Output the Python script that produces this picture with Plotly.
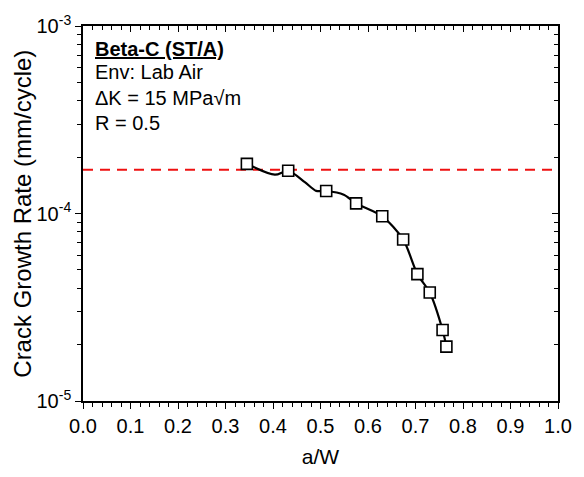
import plotly.graph_objects as go

# Measured data points (a/W, crack growth rate mm/cycle)
aw = [0.345, 0.432, 0.512, 0.575, 0.630, 0.674, 0.704, 0.730, 0.757, 0.765]
rate = [1.84e-4, 1.69e-4, 1.318e-4, 1.133e-4, 9.66e-5, 7.27e-5, 4.75e-5, 3.79e-5, 2.39e-5, 1.95e-5]

# Fitted curve
curve_x = [0.345, 0.404, 0.432, 0.467, 0.491, 0.512, 0.549, 0.575, 0.630, 0.674, 0.704, 0.730, 0.757, 0.765]
curve_y = [1.84e-4, 1.61e-4, 1.69e-4, 1.47e-4, 1.32e-4, 1.318e-4, 1.26e-4, 1.133e-4, 9.66e-5, 7.27e-5, 4.75e-5, 3.79e-5, 2.39e-5, 1.95e-5]

# Reference level (dashed red)
ref_x = [0.0, 1.0]
ref_y = [1.71e-4, 1.71e-4]

x_ticks = [0.0, 0.1, 0.2, 0.3, 0.4, 0.5, 0.6, 0.7, 0.8, 0.9, 1.0]
x_ticklabels = ["0.0", "0.1", "0.2", "0.3", "0.4", "0.5", "0.6", "0.7", "0.8", "0.9", "1.0"]
y_ticks = [1e-5, 1e-4, 1e-3]
y_ticklabels = ["10<sup>-5</sup>", "10<sup>-4</sup>", "10<sup>-3</sup>"]

x_title = "a/W"
y_title = "Crack Growth Rate (mm/cycle)"
notes = ["<b><u>Beta-C (ST/A)</u></b>", "Env: Lab Air", "ΔK = 15 MPa√m", "R = 0.5"]

FONT = "Arial, Liberation Sans, sans-serif"

y_minor = [m * 10 ** e for e in (-5, -4) for m in range(2, 10)]
x_minor = [i / 50 for i in range(51)]

fig = go.Figure()
fig.add_trace(go.Scatter(x=ref_x, y=ref_y, mode="lines",
                         line=dict(color="#ee1111", width=2, dash="10px,7px"),
                         hoverinfo="skip", showlegend=False))
fig.add_trace(go.Scatter(x=curve_x, y=curve_y, mode="lines",
                         line=dict(color="black", width=2.2, shape="spline", smoothing=0.8),
                         hoverinfo="skip", showlegend=False))
fig.add_trace(go.Scatter(x=aw, y=rate, mode="markers",
                         marker=dict(symbol="square", size=11, color="white",
                                     line=dict(color="black", width=1.6)),
                         showlegend=False))
# invisible trace to enable mirrored top/right axes with inside ticks
fig.add_trace(go.Scatter(x=ref_x, y=ref_y, xaxis="x2", yaxis="y2", mode="lines",
                         line=dict(width=0), opacity=0, hoverinfo="skip", showlegend=False))

axis_common = dict(showline=True, linecolor="black", linewidth=1.6, showgrid=False,
                   zeroline=False, tickcolor="black", tickwidth=1.3)

fig.update_layout(
    width=584, height=477,
    margin=dict(l=83, r=15, t=21, b=61),
    paper_bgcolor="white", plot_bgcolor="white",
    font=dict(family=FONT, color="black"),
    xaxis=dict(range=[0, 1], tickmode="array", tickvals=x_ticks, ticktext=x_ticklabels,
               ticks="outside", ticklen=6, ticklabeloverflow="allow",
               minor=dict(tickmode="array", tickvals=x_minor, ticks="outside", ticklen=4,
                          tickcolor="black", tickwidth=1),
               tickfont=dict(size=20, family=FONT),
               title=dict(text=x_title, font=dict(size=21, family=FONT), standoff=14),
               **axis_common),
    yaxis=dict(type="log", range=[-5, -3], tickmode="array", tickvals=y_ticks,
               ticktext=y_ticklabels, ticks="outside", ticklen=6, ticklabeloverflow="allow",
               minor=dict(tickmode="array", tickvals=y_minor, ticks="outside", ticklen=4,
                          tickcolor="black", tickwidth=1),
               tickfont=dict(size=20, family=FONT),
               **axis_common),
    xaxis2=dict(range=[0, 1], overlaying="x", side="top", tickmode="array", tickvals=x_ticks,
                ticks="inside", ticklen=6, showticklabels=False,
                minor=dict(tickmode="array", tickvals=x_minor, ticks="inside", ticklen=4,
                           tickcolor="black", tickwidth=1),
                **axis_common),
    yaxis2=dict(type="log", range=[-5, -3], overlaying="y", side="right", tickmode="array",
                tickvals=y_ticks, ticks="inside", ticklen=6, showticklabels=False,
                minor=dict(tickmode="array", tickvals=y_minor, ticks="inside", ticklen=4,
                           tickcolor="black", tickwidth=1),
                **axis_common),
)

fig.add_annotation(text=y_title, xref="paper", yref="paper", x=-0.128, y=0.5,
                   xanchor="center", yanchor="middle", textangle=-90, showarrow=False,
                   font=dict(size=24, family=FONT, color="black"))

note_y = [0.938, 0.877, 0.808, 0.742]
for txt, yy in zip(notes, note_y):
    fig.add_annotation(text=txt, xref="paper", yref="paper", x=0.02, y=yy,
                       xanchor="left", yanchor="middle", showarrow=False,
                       font=dict(size=20, family=FONT, color="black"))

# remove the browser's default 8px body margin so the figure sits at the page origin
fig.write_html("out.html",
               config={"displayModeBar": False},
               post_script="document.body.style.margin='0px';document.body.style.overflow='hidden';")
